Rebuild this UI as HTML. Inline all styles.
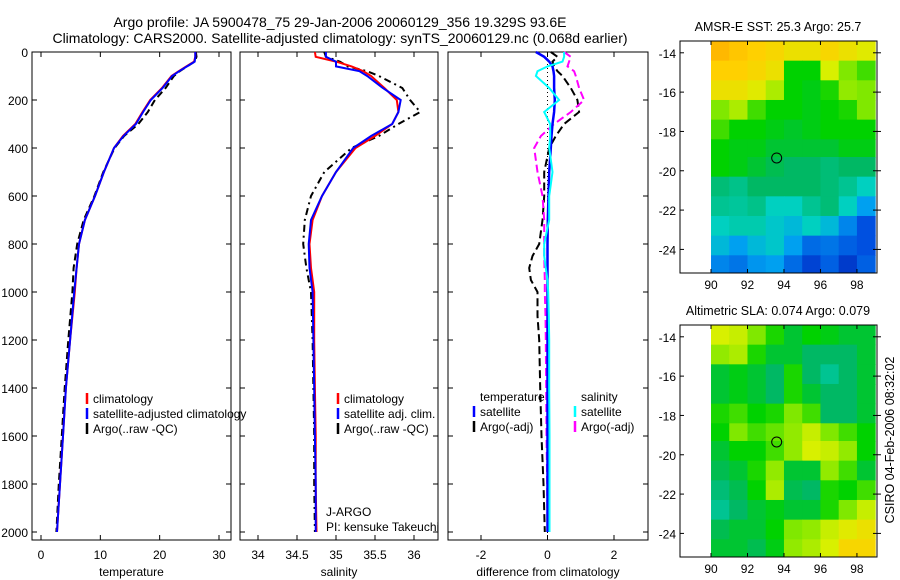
<!DOCTYPE html>
<html><head><meta charset="utf-8"><style>
html,body{margin:0;padding:0;background:#fff;}
svg{display:block;font-family:"Liberation Sans",sans-serif;}
</style></head><body>
<svg id="fig" width="900" height="580" viewBox="0 0 900 580" xmlns="http://www.w3.org/2000/svg">
<text x="340" y="27" text-anchor="middle" font-size="14">Argo profile: JA 5900478_75 29-Jan-2006 20060129_356 19.329S 93.6E</text>
<text x="340" y="43" text-anchor="middle" font-size="14">Climatology: CARS2000. Satellite-adjusted climatology: synTS_20060129.nc (0.068d earlier)</text>
<text x="778" y="31" text-anchor="middle" font-size="12.5">AMSR-E SST: 25.3  Argo: 25.7</text>
<text x="778" y="315" text-anchor="middle" font-size="12.5">Altimetric SLA: 0.074  Argo: 0.079</text>
<text transform="translate(894,440) rotate(-90)" text-anchor="middle" font-size="12.5">CSIRO 04-Feb-2006 08:32:02</text>
<g id="plots"></g>
</svg>
<script>
// ---- profile data ----
var tDepth = [0,20,40,60,80,100,150,200,250,300,350,400,500,600,700,800,900,1000,1200,1400,1600,1800,2000];
var tClim  = [26,26,25.8,24.5,23.2,22,20.4,18.4,17.1,15.9,13.8,12.3,10.6,9.1,7.4,6.4,6.0,5.7,4.9,4.2,3.7,3.2,2.7];
var tSat   = [26,26,25.9,24.6,23.3,22.1,20.5,18.5,17.2,16.0,13.9,12.3,10.6,9.1,7.4,6.4,6.0,5.6,4.9,4.2,3.7,3.2,2.7];
var tArgo  = [26.1,26.2,25.9,24.6,23.4,22.4,21.0,19.2,18.0,16.4,14.0,12.4,10.5,9.0,7.2,6.1,5.5,5.3,4.6,4.0,3.5,3.0,2.6];
var sDepth = [0,20,40,60,80,100,150,200,250,300,350,400,500,600,700,800,900,1000,1200,1400,1600,1800,2000];
var sClim  = [34.73,34.74,35.0,35.2,35.35,35.45,35.62,35.78,35.8,35.72,35.5,35.25,35.0,34.82,34.7,34.66,34.68,34.72,34.72,34.73,34.74,34.74,34.75];
var sSat   = [34.87,34.87,35.0,35.0,35.3,35.4,35.6,35.83,35.8,35.72,35.45,35.22,35.0,34.82,34.68,34.65,34.66,34.7,34.71,34.72,34.73,34.74,34.74];
var sArgo  = [34.85,34.87,35.05,35.15,35.4,35.55,35.85,35.95,36.08,35.8,35.55,35.2,34.85,34.68,34.6,34.58,34.62,34.68,34.7,34.71,34.72,34.72,34.73];
var dDepth = [0,20,40,60,80,100,150,200,250,300,350,400,500,600,700,800,850,900,950,1000,1100,1200,1400,1600,1800,2000];
var dTsat  = [-0.35,-0.1,0.05,0.15,0.18,0.2,0.2,0.22,0.2,0.15,0.12,0.1,0.05,0.03,0.01,0,0,0,0,0,0,0,0,0,0,0];
var dTargo = [0.1,0.3,0.15,0.2,0.3,0.45,0.7,0.9,0.95,0.5,0.25,0.05,-0.1,-0.1,-0.15,-0.25,-0.45,-0.55,-0.5,-0.3,-0.3,-0.25,-0.22,-0.18,-0.12,-0.08];
var dSsat  = [0.5,0.5,0.45,0.0,-0.3,-0.35,0.05,0.35,-0.1,0.08,0.08,0.05,0.15,0.05,0.05,-0.1,-0.1,-0.05,0,0.02,0.04,0.05,0.05,0.06,0.06,0.06];
var dSargo = [0.5,0.7,0.65,0.6,0.8,0.85,0.95,1.1,0.7,0.2,-0.2,-0.4,-0.3,-0.15,-0.1,-0.1,-0.1,-0.09,-0.08,-0.08,-0.06,-0.05,-0.04,-0.03,-0.01,0];
var depthTicks = [0,200,400,600,800,1000,1200,1400,1600,1800,2000];
var tTicks = [0,10,20,30];
var sTicks = [34,34.5,35,35.5,36];
var sTickLabels = ["34","34.5","35","35.5","36"];
var dTicks = [-2,0,2];
// ---- map data (rows north->south, cols 90..99E) ----
var mapLon = [90,91,92,93,94,95,96,97,98];
var mapLat = [-13.4,-14.4,-15.4,-16.4,-17.4,-18.4,-19.3,-20.3,-21.3,-22.3,-23.3,-24.3];
var sstGrid = [
[.95,.92,.9,.88,.85,.85,.88,.85,.82],
[.9,.9,.88,.85,.6,.6,.8,.7,.65],
[.85,.85,.82,.75,.6,.58,.62,.72,.7],
[.7,.75,.65,.6,.6,.58,.6,.62,.7],
[.65,.6,.6,.58,.56,.58,.6,.6,.6],
[.6,.58,.58,.55,.55,.55,.55,.58,.58],
[.6,.58,.55,.52,.5,.5,.48,.5,.5],
[.48,.46,.5,.5,.5,.5,.48,.45,.4],
[.45,.44,.46,.4,.4,.45,.48,.4,.3],
[.4,.42,.42,.38,.35,.4,.35,.25,.15],
[.35,.3,.35,.38,.3,.2,.22,.18,.15],
[.25,.22,.28,.3,.2,.12,.18,.1,.18]];
var slaGrid = [
[.8,.78,.7,.62,.55,.6,.58,.55,.55],
[.72,.75,.62,.55,.55,.5,.5,.5,.55],
[.55,.58,.55,.5,.62,.5,.45,.5,.55],
[.55,.58,.55,.5,.62,.55,.5,.5,.55],
[.62,.65,.6,.62,.7,.65,.5,.5,.55],
[.6,.7,.65,.68,.72,.78,.7,.65,.6],
[.55,.6,.6,.65,.72,.8,.78,.72,.6],
[.52,.55,.62,.72,.55,.55,.72,.65,.55],
[.48,.52,.6,.75,.52,.5,.62,.6,.65],
[.45,.5,.55,.58,.55,.55,.62,.7,.78],
[.52,.55,.55,.6,.7,.72,.78,.82,.85],
[.55,.55,.52,.58,.72,.75,.8,.88,.88]];
var lonTicks = [90,92,94,96,98];
var latTicks = [-14,-16,-18,-20,-22,-24];
var floatLon = 93.6, floatLat = -19.35;

var NS="http://www.w3.org/2000/svg";
var root=document.getElementById('plots');
function mk(tag,attrs,parent){var e=document.createElementNS(NS,tag);for(var k in attrs)e.setAttribute(k,attrs[k]);(parent||root).appendChild(e);return e;}
function lin(d0,d1,r0,r1){return function(v){return r0+(v-d0)*(r1-r0)/(d1-d0);};}
var yD = lin(0,2000,52,532);
var PT=540;

function panel(x0,x1,xs,ticks,labels,name,xlabel,showY){
  var g=mk('g',{});
  
  
  var r=mk('rect',{x:x0,y:52,width:x1-x0,height:PT-52,fill:'none',stroke:'#000','stroke-width':1},g);
  
  
  depthTicks.forEach(function(d){
    var y=yD(d);
    mk('line',{x1:x0,x2:x0+5,y1:y,y2:y,stroke:'#000'},g);
    mk('line',{x1:x1-5,x2:x1,y1:y,y2:y,stroke:'#000'},g);
    if(showY){var t=mk('text',{x:x0-4,y:y+5,'text-anchor':'end','font-size':12},g);t.textContent=d;
      
      }
  });
  ticks.forEach(function(v,i){
    var x=xs(v);
    mk('line',{x1:x,x2:x,y1:52,y2:57,stroke:'#000'},g);
    mk('line',{x1:x,x2:x,y1:PT-5,y2:PT,stroke:'#000'},g);
    var t=mk('text',{x:x,y:559,'text-anchor':'middle','font-size':12},g);t.textContent=labels[i];
    
    
  });
  var xl=mk('text',{x:(x0+x1)/2,y:576,'text-anchor':'middle','font-size':12},g);xl.textContent=xlabel;
  
  
  return g;
}
function series(g,xs,depths,vals,color,dash,w,name){
  var d='';for(var i=0;i<vals.length;i++)d+=(i?'L':'M')+xs(vals[i]).toFixed(1)+','+yD(depths[i]).toFixed(1);
  var p=mk('path',{d:d,fill:'none',stroke:color,'stroke-width':w||2,'stroke-dasharray':dash||'none'},g);
  
  
}
function legend(g,x,y,items){
  items.forEach(function(it,i){
    var yy=y+i*15;
    if(it.c){var m=mk('line',{x1:x,x2:x,y1:yy-10,y2:yy+1,stroke:it.c,'stroke-width':2.5},g);
      
      }
    var t=mk('text',{x:x+6,y:yy,'font-size':12},g);t.textContent=it.t;
    
    
  });
}
// panel 1 temperature
var xT=lin(0,30,41,219);
var g1=panel(32,231,xT,tTicks,tTicks.map(String),'temperature-panel','temperature',true);
series(g1,xT,tDepth,tArgo,'#000','7,4',2,'argo-temperature-line');
series(g1,xT,tDepth,tClim,'#f00',null,2,'climatology-temperature-line');
series(g1,xT,tDepth,tSat,'#00f',null,2,'satellite-temperature-line');
legend(g1,87,403,[{c:'#f00',t:'climatology'},{c:'#00f',t:'satellite-adjusted climatology'},{c:'#000',t:'Argo(..raw -QC)'}]);
// panel 2 salinity
var xS=lin(34,36,258,414);
var g2=panel(240,438,xS,sTicks,sTickLabels,'salinity-panel','salinity',false);
series(g2,xS,sDepth,sArgo,'#000','7,4,2,4',2,'argo-salinity-line');
series(g2,xS,sDepth,sClim,'#f00',null,2,'climatology-salinity-line');
series(g2,xS,sDepth,sSat,'#00f',null,2,'satellite-salinity-line');
legend(g2,338,403,[{c:'#f00',t:'climatology'},{c:'#00f',t:'satellite adj. clim.'},{c:'#000',t:'Argo(..raw -QC)'}]);
var j1=mk('text',{x:326,y:516,'font-size':12},g2);j1.textContent='J-ARGO';


var j2=mk('text',{x:326,y:531,'font-size':12},g2);j2.textContent='PI: kensuke Takeuchi';


// panel 3 differences
var xDf=lin(-2,2,481,614);
var g3=panel(448,648,xDf,dTicks,dTicks.map(String),'difference-panel','difference from climatology',false);
var zl=mk('line',{x1:xDf(0),x2:xDf(0),y1:52,y2:PT,stroke:'#000','stroke-dasharray':'1,3'},g3);


series(g3,xDf,dDepth,dTargo,'#000','8,4',2,'argo-temperature-difference');
series(g3,xDf,dDepth,dSargo,'#f0f','8,4',2,'argo-salinity-difference');
series(g3,xDf,dDepth,dTsat,'#00f',null,2.5,'satellite-temperature-difference');
series(g3,xDf,dDepth,dSsat,'#0ff',null,2,'satellite-salinity-difference');
legend(g3,474,401,[{t:'temperature'},{c:'#00f',t:'satellite'},{c:'#000',t:'Argo(-adj)'}]);
legend(g3,575,401,[{t:'salinity'},{c:'#0ff',t:'satellite'},{c:'#f0f',t:'Argo(-adj)'}]);

// ---- maps ----
var cstops=[[0,[0,16,160]],[0.15,[0,80,224]],[0.3,[0,160,240]],[0.4,[0,208,192]],[0.5,[0,184,100]],[0.6,[0,210,0]],[0.7,[128,232,0]],[0.8,[216,240,0]],[0.9,[255,208,0]],[1,[255,160,0]]];
function cmap(v){for(var i=1;i<cstops.length;i++){if(v<=cstops[i][0]){var a=cstops[i-1],b=cstops[i],f=(v-a[0])/(b[0]-a[0]);
  return 'rgb('+a[1].map(function(c,k){return Math.round(c+(b[1][k]-c)*f);}).join(',')+')';}}return 'rgb(255,160,0)';}
function drawMap(top,bot,latTop,latBot,grid,name){
  var g=mk('g',{});
  
  
  var xm=lin(88.3,99.1,680,877), ym=lin(latTop,latBot,top,bot);
  for(var r=0;r<grid.length;r++)for(var c=0;c<grid[r].length;c++){
    var lat0=mapLat[r], lat1=(r+1<mapLat.length)?mapLat[r+1]:latBot;
    var x0=Math.max(xm(mapLon[c]),xm(90)), x1=Math.min(xm(mapLon[c]+1),877);
    var cell=mk('rect',{x:x0,y:ym(lat0),width:x1-x0+0.5,height:ym(lat1)-ym(lat0)+0.5,fill:cmap(grid[r][c])},g);
    
    
  }
  var fr=mk('rect',{x:680,y:top,width:197,height:bot-top,fill:'none',stroke:'#000'},g);
  
  
  lonTicks.forEach(function(v){var x=xm(v);
    mk('line',{x1:x,x2:x,y1:top,y2:top+4,stroke:'#000'},g);mk('line',{x1:x,x2:x,y1:bot-4,y2:bot,stroke:'#000'},g);
    var t=mk('text',{x:x,y:bot+16,'text-anchor':'middle','font-size':12},g);t.textContent=v;
    
    });
  latTicks.forEach(function(v){var y=ym(v);
    mk('line',{x1:680,x2:684,y1:y,y2:y,stroke:'#000'},g);mk('line',{x1:873,x2:881,y1:y,y2:y,stroke:'#000'},g);
    var t=mk('text',{x:676,y:y+5,'text-anchor':'end','font-size':12},g);t.textContent=v;
    
    });
  var c=mk('circle',{cx:xm(floatLon),cy:ym(floatLat),r:5,fill:'none',stroke:'#000'},g);
  
  
}
drawMap(41,273,-13.4,-25.2,sstGrid,'sst-map');
drawMap(325,557,-13.4,-25.2,slaGrid,'sla-map');
</script>
</body></html>
